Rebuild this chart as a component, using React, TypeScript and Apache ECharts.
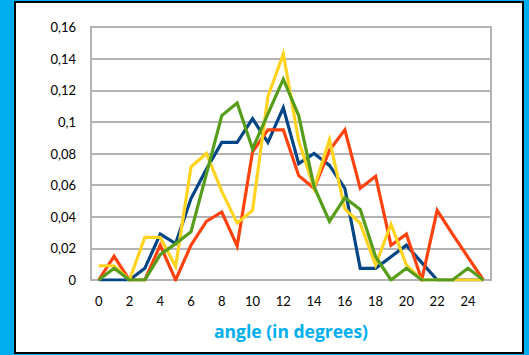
import React, { useEffect, useRef } from "react";
import * as echarts from "echarts";

const categories = Array.from({ length: 26 }, (_, i) => String(i));
const seriesBlue = [0, 0, 0, 0.0074, 0.029, 0.023, 0.0515, 0.07, 0.087, 0.087, 0.102, 0.087, 0.109, 0.0736, 0.08, 0.0725, 0.058, 0.0074, 0.0074, 0.0147, 0.022, 0.011, 0, 0, 0, 0];
const seriesRed = [0, 0.015, 0, 0, 0.022, 0, 0.022, 0.037, 0.043, 0.0215, 0.081, 0.095, 0.095, 0.066, 0.058, 0.082, 0.095, 0.058, 0.0656, 0.022, 0.029, 0, 0.044, 0.029, 0.0145, 0];
const seriesYellow = [0.009, 0.009, 0, 0.027, 0.027, 0.0085, 0.0715, 0.08, 0.056, 0.036, 0.044, 0.116, 0.143, 0.088, 0.058, 0.0888, 0.045, 0.0358, 0.0095, 0.0353, 0.0095, 0, 0, 0, 0, 0];
const seriesGreen = [0, 0.0074, 0, 0, 0.016, 0.023, 0.0305, 0.067, 0.104, 0.112, 0.083, 0.105, 0.127, 0.104, 0.059, 0.037, 0.052, 0.0446, 0.0147, 0, 0.0074, 0, 0, 0, 0.0074, 0];
const xTitle = "angle (in degrees)";

export default function App() {
  const ref = useRef<HTMLDivElement>(null);
  useEffect(() => {
    if (!ref.current) return;
    const chart = echarts.init(ref.current, undefined, { renderer: "svg" });
    const mk = (data: number[], color: string) => ({
      type: "line",
      data,
      showSymbol: false,
      symbol: "none",
      lineStyle: { color, width: 3.2, join: "miter" },
      itemStyle: { color },
    });
    chart.setOption({
      animation: false,
      backgroundColor: "#00AEEF",
      textStyle: { fontFamily: "Lato" },
      graphic: [
        {
          type: "rect",
          shape: { x: 15, y: 2, width: 508, height: 351 },
          style: { fill: "#ffffff", stroke: "#000000", lineWidth: 2 },
          z: -10,
        },
      ],
      grid: {
        left: 91,
        top: 27,
        width: 400,
        height: 253,
        show: true,
        borderColor: "#b3b3b3",
        borderWidth: 2,
        backgroundColor: "transparent",
      },
      xAxis: {
        type: "category",
        data: categories,
        boundaryGap: true,
        axisLine: { lineStyle: { color: "#b3b3b3", width: 2 } },
        axisTick: { show: false },
        axisLabel: { interval: 1, color: "#000000", fontSize: 13, margin: 14, fontFamily: "Lato" },
        name: xTitle,
        nameLocation: "middle",
        nameGap: 42,
        nameTextStyle: { color: "#00AEEF", fontSize: 17.5, fontWeight: "bold", fontFamily: "Open Sans" },
      },
      yAxis: {
        type: "value",
        min: 0,
        max: 0.16,
        interval: 0.02,
        axisLine: { show: false },
        axisTick: { show: false },
        splitLine: { lineStyle: { color: "#b3b3b3", width: 2 } },
        axisLabel: {
          color: "#000000",
          fontSize: 13,
          margin: 15,
          fontFamily: "Lato",
          formatter: (v: number) => String(parseFloat(v.toFixed(2))).replace(".", ","),
        },
      },
      series: [
        mk(seriesBlue, "#004586"),
        mk(seriesRed, "#FF420E"),
        mk(seriesYellow, "#FFD320"),
        mk(seriesGreen, "#579D1C"),
      ],
    });
    return () => chart.dispose();
  }, []);
  return (
    <div
      ref={ref}
      style={{ position: "absolute", left: 0, top: 0, width: 529, height: 355 }}
    />
  );
}
